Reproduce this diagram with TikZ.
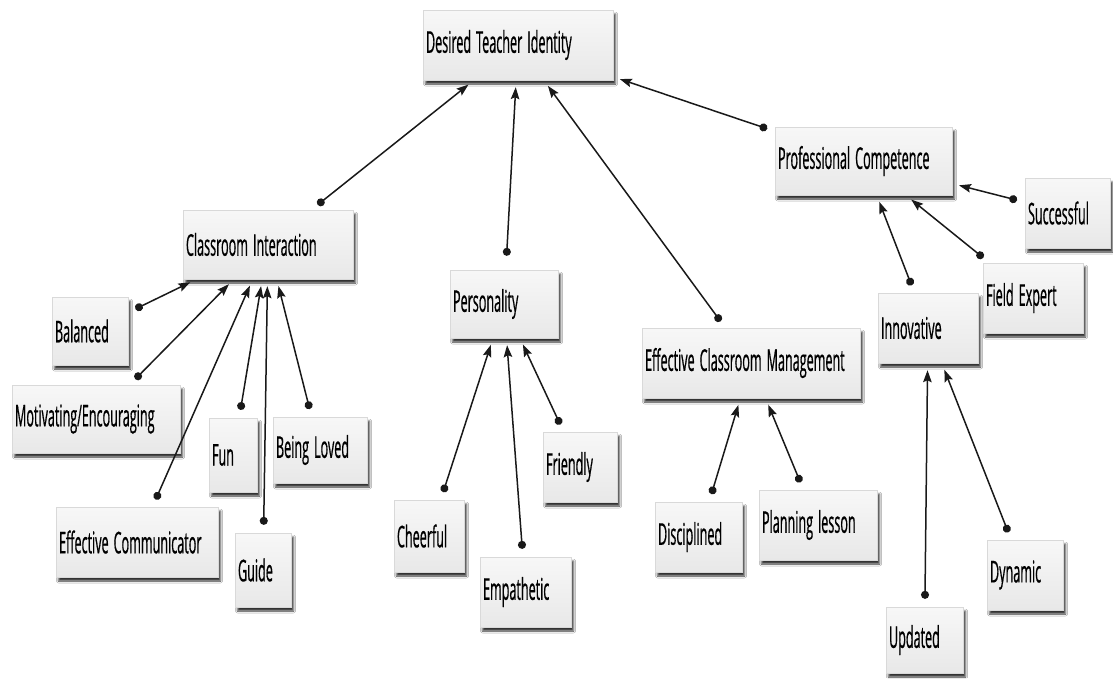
\documentclass[tikz,border=0pt]{standalone}
\usepackage{fontspec}
\usetikzlibrary{arrows.meta,shadows.blur}
\newfontfamily\lblfont[FakeStretch=0.42, FakeBold=0.5, WordSpace=0.45]{Open Sans}
\begin{document}
\begin{tikzpicture}[x=1pt,y=-1pt,
  cbox/.style={rectangle, top color=white!97!black, bottom color=white!91!black,
    draw=black!15, line width=0.4pt,
    blur shadow={shadow xshift=2.5pt, shadow yshift=-4pt, shadow blur radius=2pt, shadow opacity=80},
    font=\lblfont\fontsize{30}{34}\selectfont, inner xsep=3pt, inner ysep=0pt,
    execute at begin node={\spaceskip=5pt plus 1pt\relax\xspaceskip=5pt\relax\hyphenpenalty=10000\relax}},
  link/.style={black!90, line width=1.5pt,
    {Circle[length=8pt]}-{Stealth[length=12pt,width=8.5pt,inset=2pt]},
    shorten <=8pt, shorten >=7pt}]
\path[use as bounding box, fill=white] (0,0) rectangle (1113,678);

% top concept
\node[cbox, text width=184pt, minimum height=70pt] (dti) at (518,45) {Desired Teacher Identity};

% first-level concepts
\node[cbox, text width=164pt, minimum height=69pt] (ci) at (268,244.5) {Classroom Interaction};
\node[cbox, text width=102pt, minimum height=68pt] (pers) at (504,304) {Personality};
\node[cbox, text width=212pt, minimum height=70pt] (ecm) at (751,363) {Effective Classroom Management};
\node[cbox, text width=171pt, minimum height=68pt] (pc) at (863.5,161) {Professional Competence};

% classroom interaction
\node[cbox, text width=70pt, minimum height=68pt] (bal) at (90,331) {Balanced};
\node[cbox, text width=162pt, minimum height=68pt] (mot) at (96,419) {Motivating/Encouraging};
\node[cbox, text width=156pt, minimum height=70pt] (ecom) at (137,542) {Effective Communicator};
\node[cbox, text width=42pt, minimum height=74pt] (fun) at (233,455) {Fun};
\node[cbox, text width=88pt, minimum height=66pt] (loved) at (320,450) {Being Loved};
\node[cbox, text width=50pt, minimum height=74pt] (guide) at (263,570) {Guide};

% personality
\node[cbox, text width=64pt, minimum height=72pt] (cheer) at (429,536) {Cheerful};
\node[cbox, text width=85pt, minimum height=70pt] (emp) at (525.5,592) {Empathetic};
\node[cbox, text width=68pt, minimum height=70pt] (friend) at (580,467) {Friendly};

% classroom management
\node[cbox, text width=81pt, minimum height=70pt] (disc) at (698.5,537) {Disciplined};
\node[cbox, text width=112pt, minimum height=70pt] (plan) at (818,525) {Planning lesson};

% professional competence
\node[cbox, text width=79pt, minimum height=70pt] (succ) at (1067.5,213) {Successful};
\node[cbox, text width=94pt, minimum height=70pt] (field) at (1033,298) {Field Expert};
\node[cbox, text width=94pt, minimum height=70pt] (innov) at (928,328) {Innovative};
\node[cbox, text width=70pt, minimum height=70pt] (dyn) at (1025,575) {Dynamic};
\node[cbox, text width=71pt, minimum height=66pt] (upd) at (924.5,640) {Updated};

% links: dot at the sub-concept, arrow head at the concept
\draw[link] (ci) -- (dti);
\draw[link, shorten <=14pt] (pers) -- (dti);
\draw[link] (ecm) -- (dti);
\draw[link] (pc) -- (dti);

\draw[link] (bal) -- (ci);
\draw[link] (mot) -- (ci);
\draw[link] (ecom) -- (ci);
\draw[link] (fun) -- (ci);
\draw[link] (guide) -- (ci);
\draw[link] (loved) -- (ci);

\draw[link] (cheer) -- (pers);
\draw[link] (emp) -- (pers);
\draw[link] (friend) -- (pers);

\draw[link] (disc) -- (ecm);
\draw[link] (plan) -- (ecm);

\draw[link] (succ) -- (pc);
\draw[link] (field) -- (pc);
\draw[link] (innov) -- (pc);

\draw[link] (upd) -- (innov);
\draw[link] (dyn) -- (innov);
\end{tikzpicture}
\end{document}
